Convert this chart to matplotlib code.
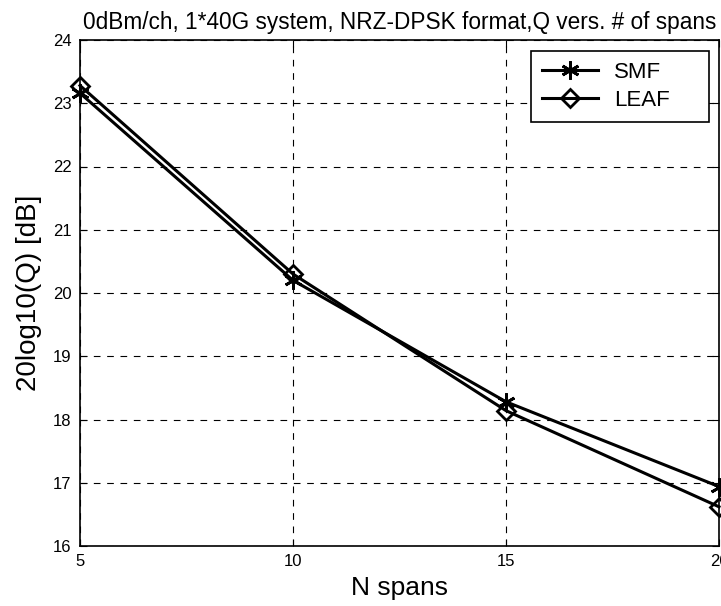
import matplotlib
matplotlib.use("Agg")
import matplotlib.pyplot as plt

plt.rcParams['font.family'] = ['Liberation Sans', 'DejaVu Sans']

spans = [5, 10, 15, 20]
q_smf = [23.16, 20.20, 18.28, 16.94]
q_leaf = [23.28, 20.30, 18.14, 16.62]
x_ticks = [5, 10, 15, 20]
y_ticks = [16, 17, 18, 19, 20, 21, 22, 23, 24]

fig = plt.figure(figsize=(7.21, 6.06), dpi=100)
ax = fig.add_axes([80/721, 60/606, 639/721, 506/606])

ax.plot(spans, q_smf, color='black', lw=2.2, marker=(6, 2, 0), ms=13, mew=2,
        mfc='black', mec='black', label='SMF', clip_on=False)
ax.plot(spans, q_leaf, color='black', lw=2.2, marker='D', ms=9.5, mew=2,
        mfc='none', mec='black', label='LEAF', clip_on=False)

ax.set_xlim(5, 20)
ax.set_ylim(16, 24)
ax.set_xticks(x_ticks)
ax.set_yticks(y_ticks)
ax.tick_params(direction='in', labelsize=12, length=5, pad=6,
               top=True, right=True)
ax.grid(True, color='black', linestyle=(0, (6, 6)), lw=0.8)
for s in ax.spines.values():
    s.set_linewidth(1.2)

ax.set_xlabel('N spans', fontsize=19, labelpad=5)
ax.set_ylabel('20log10(Q) [dB]', fontsize=20, labelpad=8)
ax.set_title('0dBm/ch, 1*40G system, NRZ-DPSK format,Q vers. # of spans',
             fontsize=16.3, pad=8)

leg = ax.legend(loc='upper left', bbox_to_anchor=(0.706, 0.5, 0.279, 0.478),
                mode='expand', borderaxespad=0, fontsize=16, frameon=True,
                fancybox=False, edgecolor='black', framealpha=1,
                handlelength=2.5, handletextpad=0.75, labelspacing=0.3,
                borderpad=0.5)
leg.get_frame().set_linewidth(1.2)

fig.savefig('out.png', dpi=100)
